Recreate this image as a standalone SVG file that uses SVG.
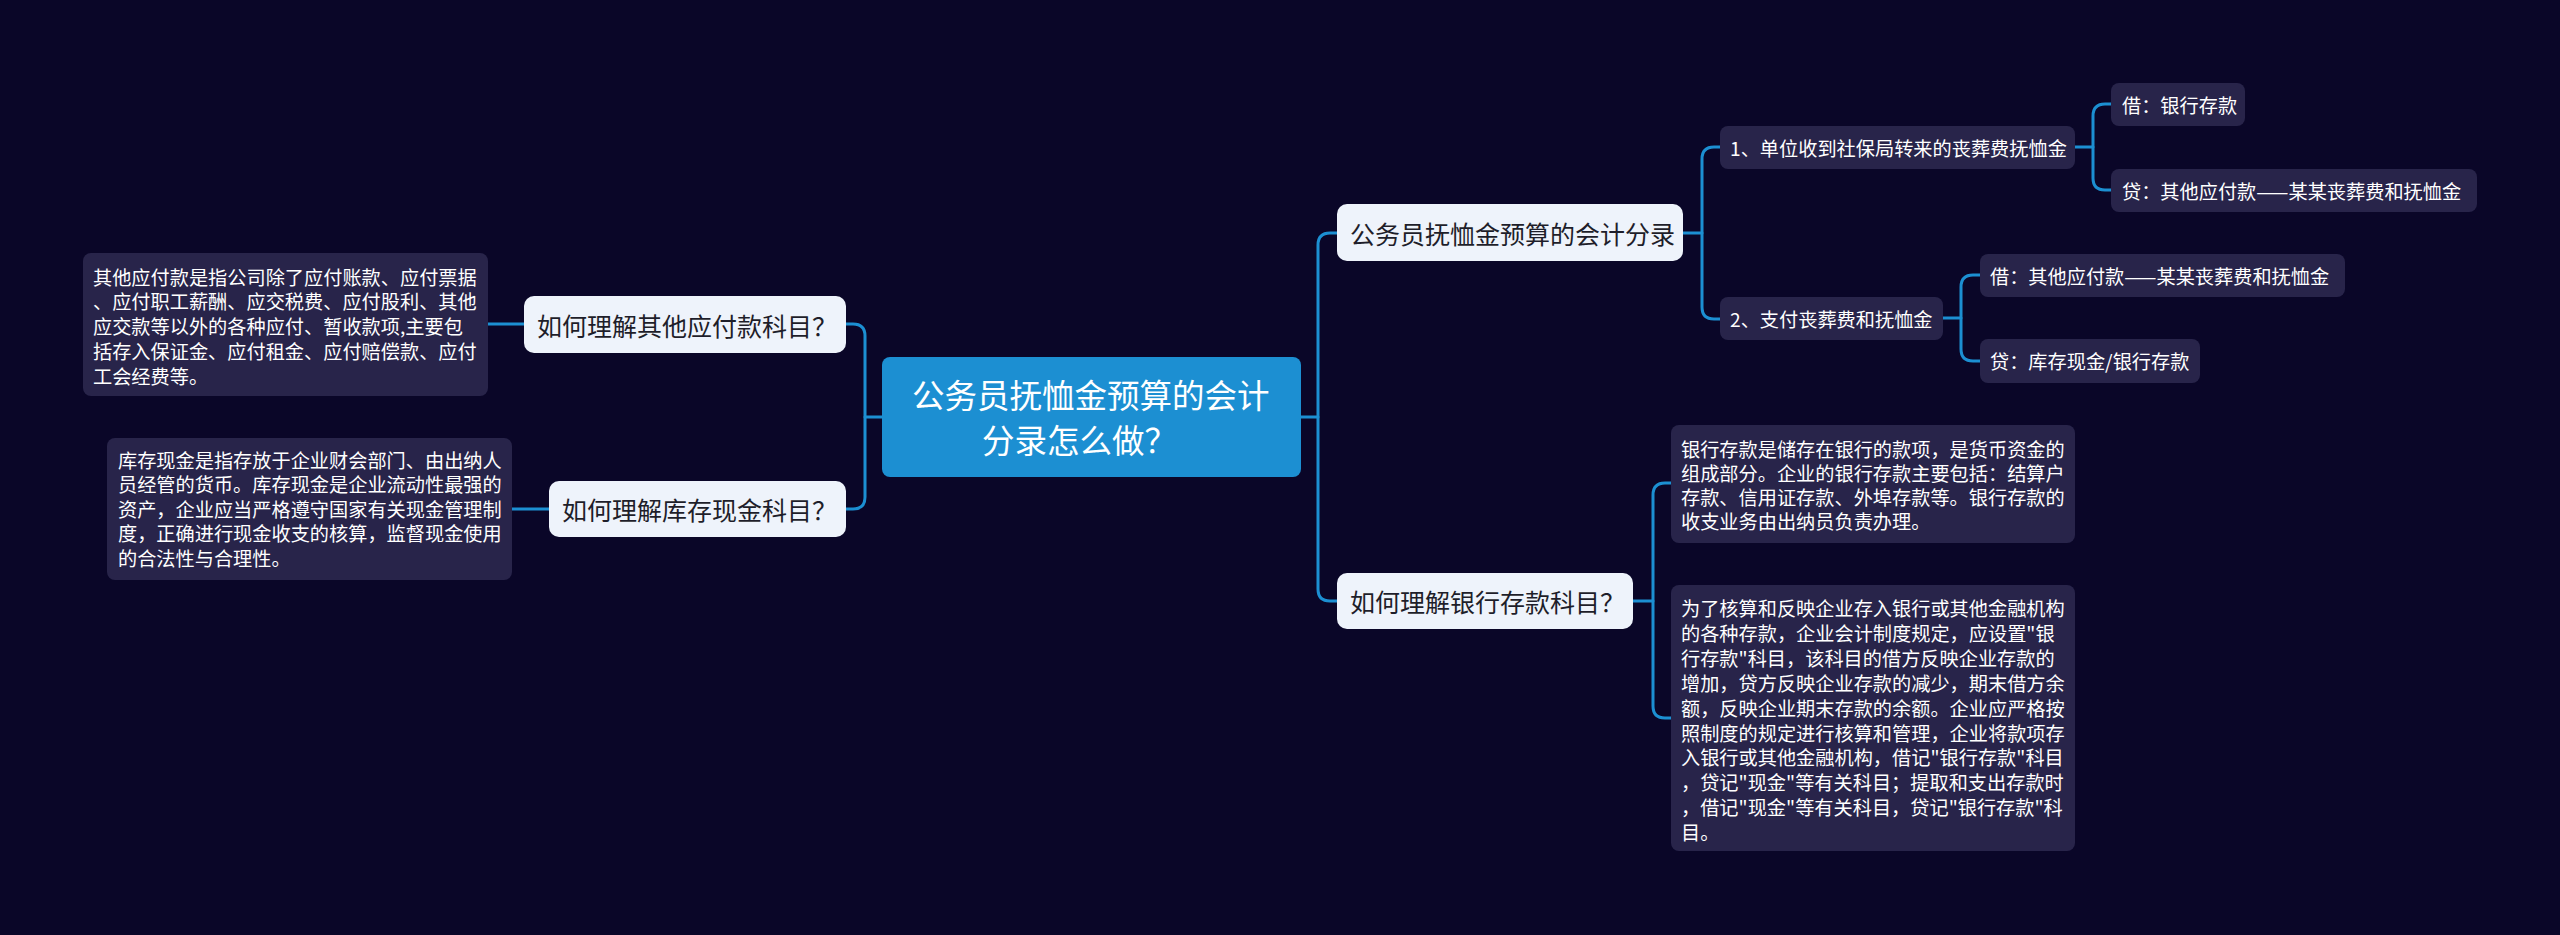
<svg xmlns="http://www.w3.org/2000/svg" width="2560" height="935" viewBox="0 0 2560 935">
<style>
.bg{fill:#0a0628}
.root rect{fill:#1c8fd2}
.root text{fill:#ffffff;font-size:32.5px}
.l1 rect{fill:#eef3fb}
.l1 text{fill:#1e1e2a;font-size:25px}
.lf rect{fill:#28244a}
.lf text{fill:#ffffff;font-size:19.2px}
text{font-family:"Noto Sans CJK SC","Noto Sans",sans-serif;dominant-baseline:central}
.conn path{fill:none;stroke:#1c8fd2;stroke-width:3;stroke-linecap:round}
</style>
<rect class="bg" x="0" y="0" width="2560" height="935"/>
<g class="conn" id="connectors">
<path d="M882,417 H865"/>
<path d="M846,324 H853 Q865,324 865,336 V497 Q865,509 853,509 H846"/>
<path d="M488,324 H524"/>
<path d="M512,509 H549"/>
<path d="M1301,417 H1318"/>
<path d="M1337,233 H1330 Q1318,233 1318,245 V589 Q1318,601 1330,601 H1337"/>
<path d="M1683,233 H1702"/>
<path d="M1720,147 H1714 Q1702,147 1702,159 V307 Q1702,319 1714,319 H1720"/>
<path d="M2075,147 H2093"/>
<path d="M2111,104 H2105 Q2093,104 2093,116 V178 Q2093,190 2105,190 H2111"/>
<path d="M1943,318 H1961"/>
<path d="M1980,275 H1973 Q1961,275 1961,287 V349 Q1961,361 1973,361 H1980"/>
<path d="M1633,601 H1653"/>
<path d="M1671,483 H1665 Q1653,483 1653,495 V706 Q1653,718 1665,718 H1671"/>
</g>
<g class="root" id="root">
<rect x="882" y="357" width="419" height="120" rx="8"/>
<text x="912" y="393">公务员抚恤金预算的会计</text>
<text x="982" y="438">分录怎么做？</text>
</g>
<g class="l1" id="n-other-payable">
<rect x="524" y="296" width="322" height="57" rx="10"/>
<text x="537" y="324.5">如何理解其他应付款科目？</text>
</g>
<g class="l1" id="n-cash">
<rect x="549" y="481" width="297" height="56" rx="10"/>
<text x="562" y="509">如何理解库存现金科目？</text>
</g>
<g class="l1" id="n-entries">
<rect x="1337" y="204" width="346" height="57" rx="10"/>
<text x="1350" y="232.5">公务员抚恤金预算的会计分录</text>
</g>
<g class="l1" id="n-bank">
<rect x="1337" y="573" width="296" height="56" rx="10"/>
<text x="1350" y="601">如何理解银行存款科目？</text>
</g>
<g class="lf" id="leaf-other-payable">
<rect x="83" y="253" width="405" height="143" rx="8"/>
<text x="93" y="276.5">其他应付款是指公司除了应付账款、应付票据</text>
<text x="93" y="301.3">、应付职工薪酬、应交税费、应付股利、其他</text>
<text x="93" y="326.1">应交款等以外的各种应付、暂收款项,主要包</text>
<text x="93" y="350.9">括存入保证金、应付租金、应付赔偿款、应付</text>
<text x="93" y="375.7">工会经费等。</text>
</g>
<g class="lf" id="leaf-cash">
<rect x="107" y="438" width="405" height="142" rx="8"/>
<text x="118" y="459.5">库存现金是指存放于企业财会部门、由出纳人</text>
<text x="118" y="484">员经管的货币。库存现金是企业流动性最强的</text>
<text x="118" y="508.5">资产，企业应当严格遵守国家有关现金管理制</text>
<text x="118" y="533">度，正确进行现金收支的核算，监督现金使用</text>
<text x="118" y="557.5">的合法性与合理性。</text>
</g>
<g class="lf" id="sub-1">
<rect x="1720" y="126" width="355" height="43" rx="8"/>
<text x="1730" y="147.5">1、单位收到社保局转来的丧葬费抚恤金</text>
</g>
<g class="lf" id="sub-2">
<rect x="1720" y="297" width="223" height="43" rx="8"/>
<text x="1730" y="318.5">2、支付丧葬费和抚恤金</text>
</g>
<g class="lf" id="leaf-1a">
<rect x="2111" y="83" width="134" height="43" rx="8"/>
<text x="2122" y="104.5">借：银行存款</text>
</g>
<g class="lf" id="leaf-1b">
<rect x="2111" y="169" width="366" height="43" rx="8"/>
<text x="2122" y="190.5">贷：其他应付款——某某丧葬费和抚恤金</text>
</g>
<g class="lf" id="leaf-2a">
<rect x="1980" y="254" width="365" height="43" rx="8"/>
<text x="1990" y="275.5">借：其他应付款——某某丧葬费和抚恤金</text>
</g>
<g class="lf" id="leaf-2b">
<rect x="1980" y="339" width="220" height="44" rx="8"/>
<text x="1990" y="361">贷：库存现金/银行存款</text>
</g>
<g class="lf" id="leaf-bank-1">
<rect x="1671" y="425" width="404" height="118" rx="8"/>
<text x="1681" y="448.5">银行存款是储存在银行的款项，是货币资金的</text>
<text x="1681" y="472.5">组成部分。企业的银行存款主要包括：结算户</text>
<text x="1681" y="496.5">存款、信用证存款、外埠存款等。银行存款的</text>
<text x="1681" y="520.5">收支业务由出纳员负责办理。</text>
</g>
<g class="lf" id="leaf-bank-2">
<rect x="1671" y="585" width="404" height="266" rx="8"/>
<text x="1681" y="608">为了核算和反映企业存入银行或其他金融机构</text>
<text x="1681" y="632.9">的各种存款，企业会计制度规定，应设置"银</text>
<text x="1681" y="657.8">行存款"科目，该科目的借方反映企业存款的</text>
<text x="1681" y="682.7">增加，贷方反映企业存款的减少，期末借方余</text>
<text x="1681" y="707.6">额，反映企业期末存款的余额。企业应严格按</text>
<text x="1681" y="732.5">照制度的规定进行核算和管理，企业将款项存</text>
<text x="1681" y="757.4">入银行或其他金融机构，借记"银行存款"科目</text>
<text x="1681" y="782.3">，贷记"现金"等有关科目；提取和支出存款时</text>
<text x="1681" y="807.2">，借记"现金"等有关科目，贷记"银行存款"科</text>
<text x="1681" y="832.1">目。</text>
</g>
</svg>
